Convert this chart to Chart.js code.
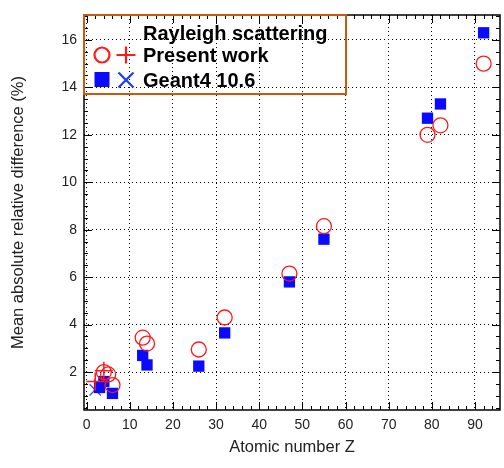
<!DOCTYPE html>
<html>
<head>
<meta charset="utf-8">
<script src="https://cdn.jsdelivr.net/npm/chart.js@4"></script>
<style>
  body { margin: 0; background: #fff; }
  #wrap { position: relative; width: 504px; height: 468px; }
  #caixa {
    position: absolute; left: 83px; top: 14px; width: 264px; height: 81px;
    border: 2px solid #c55a11; box-sizing: border-box;
  }
  .linha {
    position: absolute; left: 143px; white-space: nowrap;
    font-family: "Liberation Sans", Arial, sans-serif; font-weight: bold; font-size: 20px;
    line-height: 24px; color: #000;
  }
  #simbolos { position: absolute; left: 0; top: 0; }
</style>
</head>
<body>
<div id="wrap">
  <canvas id="grafico" width="504" height="468"></canvas>
  <div id="caixa"></div>
  <canvas id="simbolos" width="160" height="100"></canvas>
  <div class="linha" style="top:21px">Rayleigh scattering</div>
  <div class="linha" style="top:43px">Present work</div>
  <div class="linha" style="top:68px">Geant4 10.6</div>
</div>
<script>
// valores
const zPresente = [4, 5, 6, 13, 14, 26, 32, 47, 55, 79, 82, 92];
const difPresente = [2.0, 1.9, 1.45, 3.45, 3.2, 2.95, 4.3, 6.15, 8.15, 12.0, 12.4, 15.0];
const zCruz = [2, 4];
const difCruz = [1.6, 2.05];
const zGeant = [3, 4, 6, 13, 14, 26, 32, 47, 55, 79, 82, 92];
const difGeant = [1.35, 1.6, 1.1, 2.7, 2.3, 2.25, 3.65, 5.8, 7.6, 12.7, 13.3, 16.3];
const zX = [2, 3];
const difX = [1.25, 1.45];
const xTicks = [0, 10, 20, 30, 40, 50, 60, 70, 80, 90];
const yTicks = [2, 4, 6, 8, 10, 12, 14, 16];

function pares(xs, ys) {
    return xs.map((x, i) => ({ x: x, y: ys[i] }));
}

const vermelho = '#ff1a1a';
const azul = '#0a0aff';

// marcas internas nos quatro lados
const marcas = {
    id: 'marcas',
    afterDraw(chart) {
        const c = chart.ctx;
        const a = chart.chartArea;
        const sx = chart.scales.x, sy = chart.scales.y;
        c.save();
        c.strokeStyle = '#000';
        c.lineWidth = 1;
        c.beginPath();
        for (let v = 0; v <= sx.max; v += 2) {
            const p = Math.round(sx.getPixelForValue(v)) + 0.5;
            const len = v % 10 === 0 ? 8 : 4;
            c.moveTo(p, a.bottom); c.lineTo(p, a.bottom - len);
            c.moveTo(p, a.top); c.lineTo(p, a.top + len);
        }
        for (let v = 0.5; v <= sy.max; v += 0.5) {
            const p = Math.round(sy.getPixelForValue(v)) + 0.5;
            const len = v % 2 === 0 ? 8 : 4;
            c.moveTo(a.left, p); c.lineTo(a.left + len, p);
            c.moveTo(a.right, p); c.lineTo(a.right - len, p);
        }
        c.stroke();
        c.lineWidth = 1.5;
        c.strokeRect(a.left, a.top, a.right - a.left, a.bottom - a.top);
        c.restore();
    }
};

const ctx = document.getElementById('grafico');

new Chart(ctx, {
    type: 'scatter',
    data: {
        datasets: [
            {
                label: 'Present work +',
                data: pares(zCruz, difCruz),
                pointStyle: 'cross',
                pointRadius: 9,
                borderColor: vermelho,
                borderWidth: 1.5
            },
            {
                label: 'Present work',
                data: pares(zPresente, difPresente),
                pointStyle: 'circle',
                pointRadius: 7.5,
                backgroundColor: 'rgba(0,0,0,0)',
                borderColor: vermelho,
                borderWidth: 1.3
            },
            {
                label: 'Geant4 10.6',
                data: pares(zGeant, difGeant),
                pointStyle: 'rect',
                pointRadius: 8,
                backgroundColor: azul,
                borderColor: azul,
                borderWidth: 0
            },
            {
                label: 'Geant4 10.6 x',
                data: pares(zX, difX),
                pointStyle: 'crossRot',
                pointRadius: 8,
                borderColor: '#3355ff',
                borderWidth: 1.3
            }
        ]
    },
    options: {
        responsive: false,
        animation: false,
        layout: { autoPadding: false, padding: { top: 15, right: 4, left: 0, bottom: 0 } },
        plugins: {
            legend: { display: false },
            tooltip: { enabled: false }
        },
        scales: {
            x: {
                type: 'linear',
                min: -0.6,
                max: 95.8,
                afterBuildTicks(s) { s.ticks = xTicks.map(v => ({ value: v })); },
                afterFit(s) { s.height = 58; s.paddingLeft = 0; s.paddingRight = 0; },
                grid: { color: '#000', lineWidth: 1, drawTicks: false },
                border: { display: false, dash: [1, 3] },
                ticks: { color: '#222', padding: 7, font: { family: 'Liberation Sans', size: 14 }, maxRotation: 0 },
                title: { display: true, text: 'Atomic number Z', color: '#222', padding: { top: 2, bottom: 11 }, font: { family: 'Liberation Sans', size: 16.5 } }
            },
            y: {
                type: 'linear',
                min: 0.4,
                max: 17.05,
                afterBuildTicks(s) { s.ticks = yTicks.map(v => ({ value: v })); },
                afterFit(s) { s.width = 84; s.paddingTop = 0; s.paddingBottom = 0; },
                grid: { color: '#000', lineWidth: 1, drawTicks: false },
                border: { display: false, dash: [1, 3] },
                ticks: { color: '#222', padding: 7, font: { family: 'Liberation Sans', size: 14 } },
                title: { display: true, text: 'Mean absolute relative difference (%)', color: '#222', padding: { top: 9, bottom: 2 }, font: { family: 'Liberation Sans', size: 16.5 } }
            }
        }
    },
    plugins: [marcas]
});

// simbolos da legenda
const s = document.getElementById('simbolos').getContext('2d');
s.lineWidth = 2.2;
s.strokeStyle = vermelho;
s.beginPath(); s.arc(102, 55, 7.5, 0, Math.PI * 2); s.stroke();
s.beginPath(); s.moveTo(116.5, 55); s.lineTo(135.5, 55); s.moveTo(126, 46.5); s.lineTo(126, 63.5); s.stroke();
s.fillStyle = azul;
s.fillRect(94.5, 72, 15, 15);
s.strokeStyle = '#1a3cff';
s.beginPath(); s.moveTo(118.5, 72.5); s.lineTo(133.5, 87.5); s.moveTo(133.5, 72.5); s.lineTo(118.5, 87.5); s.stroke();
</script>
</body>
</html>
